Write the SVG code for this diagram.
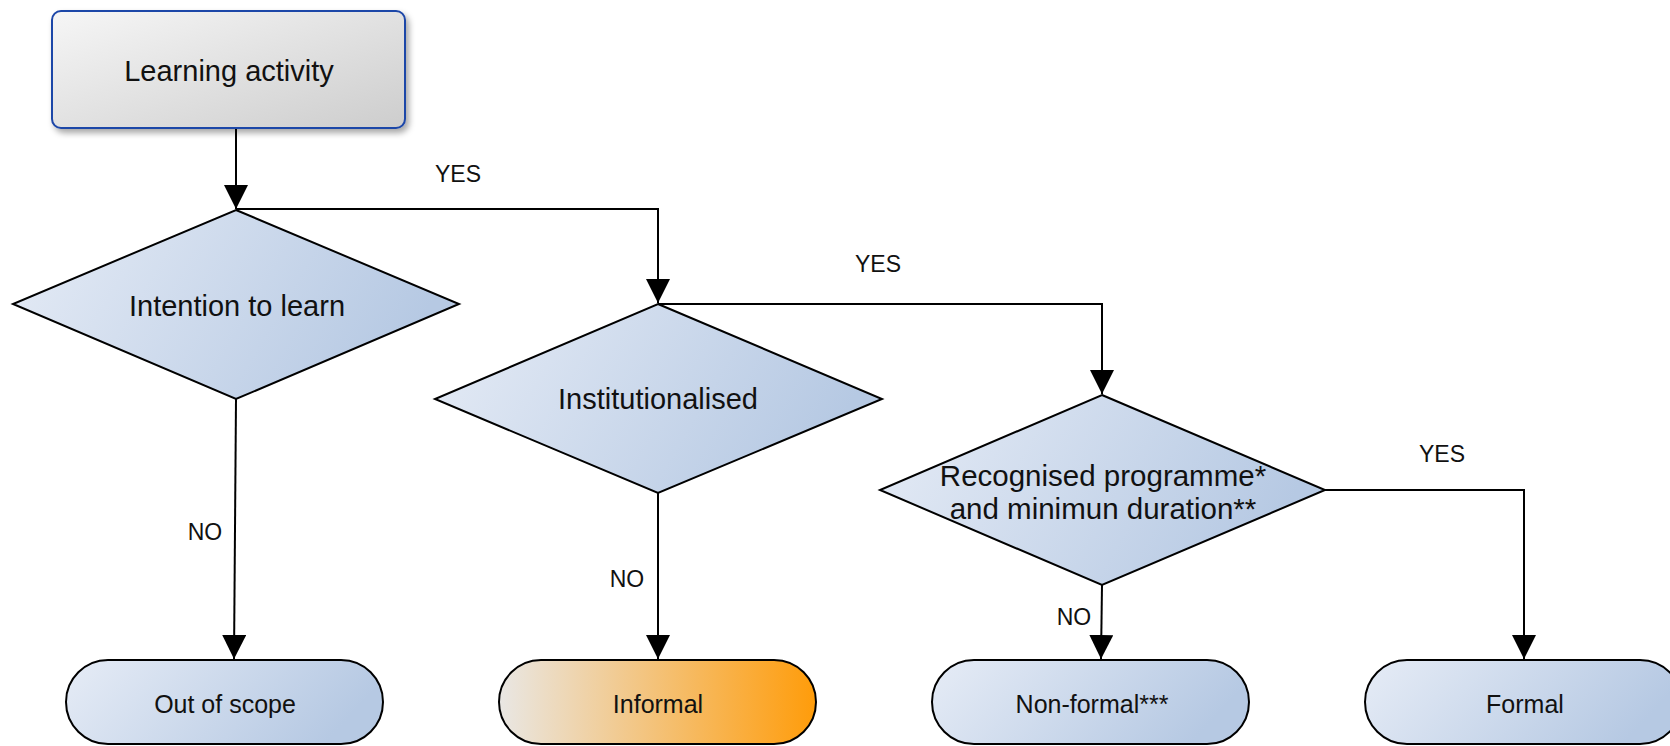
<svg xmlns="http://www.w3.org/2000/svg" width="1670" height="746" viewBox="0 0 1670 746">
<defs>
<linearGradient id="gBlue" x1="0" y1="0" x2="1" y2="0.25">
<stop offset="0" stop-color="#e6ecf6"/>
<stop offset="1" stop-color="#b6c9e3"/>
</linearGradient>
<linearGradient id="gOrange" x1="0" y1="0" x2="1" y2="0">
<stop offset="0" stop-color="#e9e7e4"/>
<stop offset="1" stop-color="#ff9c0a"/>
</linearGradient>
<linearGradient id="gGray" x1="0" y1="0" x2="1" y2="1">
<stop offset="0" stop-color="#f6f6f6"/>
<stop offset="1" stop-color="#cdcdcd"/>
</linearGradient>
<filter id="shadow" x="-10%" y="-10%" width="130%" height="140%">
<feDropShadow dx="3" dy="4" stdDeviation="3" flood-color="#000" flood-opacity="0.35"/>
</filter>
<marker id="arr" markerUnits="userSpaceOnUse" markerWidth="24" markerHeight="24" refX="24" refY="12" orient="auto">
<path d="M0,0 L24,12 L0,24 Z" fill="#000"/>
</marker>
<style>
.dia{fill:url(#gBlue);stroke:#000;stroke-width:2}
.term{fill:url(#gBlue);stroke:#000;stroke-width:2}
.conn{fill:none;stroke:#000;stroke-width:2;marker-end:url(#arr)}
text{font-family:"Liberation Sans",Arial,sans-serif;fill:#111;text-anchor:middle}
.big{font-size:29px}
.big2{font-size:29.5px}
.lbl{font-size:23px}
.tt{font-size:25px}
</style>
</defs>

<g id="connectors">
<path class="conn" d="M236,128 L236,209"/>
<path class="conn" d="M236,209 L658,209 L658,303"/>
<path class="conn" d="M658,304 L1102,304 L1102,394"/>
<path class="conn" d="M1325,490 L1524,490 L1524,659"/>
<path class="conn" d="M236,399 L234,659"/>
<path class="conn" d="M658,493 L658,659"/>
<path class="conn" d="M1102,585 L1101,659"/>
<text class="lbl" x="458" y="182">YES</text>
<text class="lbl" x="878" y="272">YES</text>
<text class="lbl" x="1442" y="462">YES</text>
<text class="lbl" x="205" y="540">NO</text>
<text class="lbl" x="627" y="587">NO</text>
<text class="lbl" x="1074" y="625">NO</text>
</g>

<g id="learning-activity">
<rect x="52" y="11" width="353" height="117" rx="9" fill="url(#gGray)" stroke="#1e46a8" stroke-width="2" filter="url(#shadow)"/>
<text class="big" x="229" y="81">Learning activity</text>
</g>

<g id="intention">
<polygon class="dia" points="236,210 459,304 236,399 13,304"/>
<text class="big" x="237" y="316">Intention to learn</text>
</g>

<g id="institutionalised">
<polygon class="dia" points="658,304 882,399 658,493 435,399"/>
<text class="big" x="658" y="409">Institutionalised</text>
</g>

<g id="recognised">
<polygon class="dia" points="1102,395 1325,490 1102,585 880,490"/>
<text class="big2" x="1103" y="486">Recognised programme*</text>
<text class="big2" x="1103" y="519">and minimun duration**</text>
</g>

<g id="out-of-scope">
<rect class="term" x="66" y="660" width="317" height="84" rx="42" ry="42"/>
<text class="tt" x="225" y="713">Out of scope</text>
</g>

<g id="informal">
<rect x="499" y="660" width="317" height="84" rx="42" ry="42" fill="url(#gOrange)" stroke="#000" stroke-width="2"/>
<text class="tt" x="658" y="713">Informal</text>
</g>

<g id="non-formal">
<rect class="term" x="932" y="660" width="317" height="84" rx="42" ry="42"/>
<text class="tt" x="1092" y="713">Non-formal***</text>
</g>

<g id="formal">
<rect class="term" x="1365" y="660" width="317" height="84" rx="42" ry="42"/>
<text class="tt" x="1525" y="713">Formal</text>
</g>
</svg>
